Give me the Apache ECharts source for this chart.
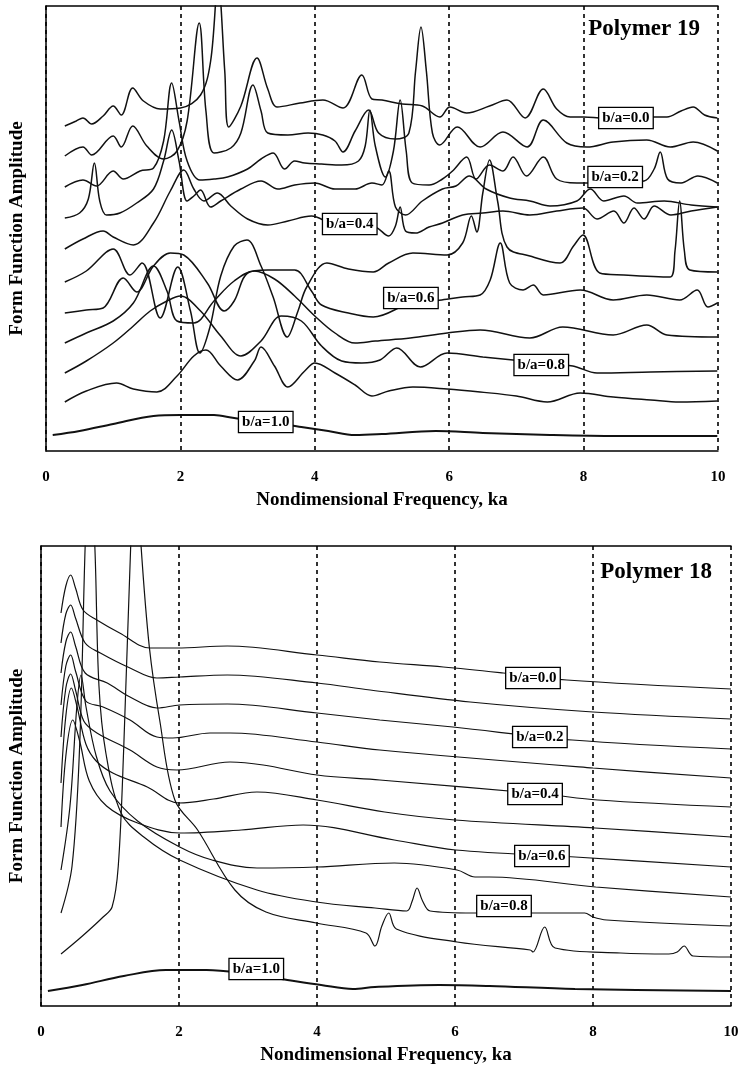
<!DOCTYPE html>
<html>
<head>
<meta charset="utf-8">
<script src="https://cdn.jsdelivr.net/npm/echarts@6/dist/echarts.min.js"></script>
<style>
html, body { margin: 0; padding: 0; background: #fff; }
#chart { width: 740px; height: 1066px; }
</style>
</head>
<body>
<div id="chart"></div>
<script>
// ---- Polymer 19 (top panel), x = ka, y = amplitude (arbitrary, offset per curve)
var p19_00 = [[0.28,325],[0.45,330],[0.55,333],[0.68,327],[0.85,335],[1.0,345],[1.12,336],[1.29,363],[1.45,350],[1.7,342],[2.0,343],[2.3,356],[2.45,390],[2.56,470],[2.66,380],[2.72,324],[2.9,345],[3.14,393],[3.3,362],[3.44,344],[3.78,348],[4.12,351],[4.42,343],[4.7,376],[4.85,352],[5.0,351],[5.3,347],[5.6,345],[5.86,334],[6.01,344],[6.26,338],[6.6,345],[6.86,351],[7.13,333],[7.4,362],[7.6,342],[7.8,334],[8.0,334],[8.3,333],[8.8,334],[9.24,334],[9.45,340],[9.63,344],[9.8,336],[9.99,333]];
var p19_01 = [[0.28,295],[0.55,304],[0.68,296],[1.0,315],[1.12,304],[1.29,325],[1.5,305],[1.75,292],[1.95,300],[2.1,330],[2.28,428],[2.38,340],[2.5,298],[2.75,303],[2.9,318],[3.08,366],[3.2,340],[3.3,318],[3.6,316],[3.9,318],[4.12,316],[4.3,310],[4.42,299],[4.6,320],[4.8,341],[4.95,318],[5.2,312],[5.4,318],[5.5,380],[5.58,424],[5.66,380],[5.75,318],[5.86,306],[6.12,324],[6.46,304],[6.8,319],[7.16,304],[7.4,331],[7.75,308],[8.05,304],[8.44,309],[8.94,311],[9.29,304],[9.63,309],[9.99,300]];
var p19_02 = [[0.28,264],[0.55,271],[0.75,265],[1.0,280],[1.15,272],[1.4,280],[1.6,283],[1.75,310],[1.87,368],[1.98,330],[2.1,290],[2.29,271],[2.5,272],[2.7,274],[3.0,282],[3.2,292],[3.38,298],[3.55,282],[3.7,290],[3.85,288],[4.1,287],[4.4,286],[4.65,290],[4.75,305],[4.82,341],[4.9,305],[5.05,274],[5.17,300],[5.27,351],[5.36,300],[5.45,268],[5.7,266],[5.9,272],[6.05,280],[6.26,294],[6.4,272],[6.6,286],[6.8,280],[6.95,294],[7.15,275],[7.4,294],[7.6,272],[7.9,268],[8.2,268],[8.9,270],[9.05,282],[9.14,299],[9.25,272],[9.45,268],[9.7,275],[9.99,268]];
var p19_03 = [[0.28,233],[0.5,238],[0.63,252],[0.72,288],[0.8,250],[0.9,236],[1.1,238],[1.35,248],[1.6,262],[1.75,290],[1.87,321],[1.98,290],[2.1,250],[2.2,255],[2.3,261],[2.45,244],[2.6,250],[2.9,262],[3.2,270],[3.45,262],[3.7,266],[4.0,268],[4.3,262],[4.6,262],[4.85,268],[5.0,266],[5.1,280],[5.2,244],[5.35,236],[5.6,250],[5.9,262],[6.1,265],[6.3,275],[6.55,262],[6.9,253],[7.2,250],[7.5,245],[7.9,250],[8.1,262],[8.3,250],[8.6,255],[8.8,248],[9.2,250],[9.6,246],[9.99,244]];
var p19_04 = [[0.28,202],[0.55,212],[0.85,220],[1.0,214],[1.3,206],[1.6,228],[1.85,260],[2.05,281],[2.2,262],[2.35,250],[2.55,258],[2.75,245],[3.0,232],[3.3,226],[3.6,230],[3.95,235],[4.3,227],[4.52,227],[4.9,224],[5.1,215],[5.2,225],[5.27,244],[5.35,220],[5.5,218],[5.7,224],[5.9,228],[6.2,236],[6.5,238],[6.8,240],[7.2,236],[7.6,240],[7.99,243],[8.2,232],[8.45,240],[8.6,228],[8.75,243],[8.9,232],[9.05,245],[9.3,236],[9.6,240],[9.99,244]];
var p19_05 = [[0.28,169],[0.6,180],[1.0,202],[1.25,176],[1.43,188],[1.7,133],[1.96,184],[2.15,140],[2.29,98],[2.44,124],[2.6,175],[2.8,205],[2.99,211],[3.2,185],[3.38,154],[3.59,114],[3.75,140],[3.88,164],[4.18,188],[4.5,182],[4.87,179],[5.1,188],[5.46,198],[5.97,196],[6.2,208],[6.33,235],[6.41,219],[6.5,258],[6.6,291],[6.72,250],[6.86,204],[7.2,195],[7.65,188],[7.85,205],[7.99,216],[8.24,178],[8.6,176],[9.29,174],[9.36,200],[9.43,250],[9.5,200],[9.58,181],[9.99,179]];
var p19_06 = [[0.28,138],[0.6,141],[0.85,143],[1.15,173],[1.35,159],[1.6,185],[1.85,198],[2.05,196],[2.4,168],[2.65,140],[2.8,150],[3.0,178],[3.3,181],[3.7,181],[3.95,160],[4.1,146],[4.5,138],[4.87,134],[5.43,148],[5.89,151],[6.2,154],[6.46,156],[6.61,171],[6.76,208],[6.9,168],[7.1,161],[7.25,166],[7.4,156],[7.95,161],[8.44,151],[8.94,156],[9.43,151],[9.69,161],[9.85,144],[9.99,148]];
var p19_07 = [[0.28,108],[0.6,118],[1.0,130],[1.3,148],[1.6,185],[1.8,160],[1.95,130],[2.2,128],[2.5,150],[2.8,170],[3.1,180],[3.4,172],[3.7,155],[4.0,135],[4.3,118],[4.6,108],[4.9,110],[5.42,113],[5.97,118],[6.46,121],[7.2,113],[7.69,124],[8.44,116],[8.94,126],[9.24,116],[9.99,114]];
var p19_08 = [[0.28,78],[0.6,90],[1.0,108],[1.3,125],[1.55,140],[1.8,150],[2.0,155],[2.3,140],[2.6,115],[2.9,95],[3.2,110],[3.5,135],[3.8,130],[4.1,105],[4.4,90],[4.7,88],[4.97,91],[5.22,103],[5.57,84],[5.97,98],[6.5,94],[6.95,91],[7.37,88],[7.84,85],[8.2,78],[9.0,79],[9.99,80]];
var p19_09 = [[0.28,49],[0.6,60],[1.05,68],[1.3,62],[1.65,59],[1.95,75],[2.2,95],[2.38,101],[2.6,85],[2.85,71],[3.1,90],[3.2,104],[3.4,85],[3.6,64],[3.85,80],[4.0,88],[4.3,78],[4.6,66],[4.85,55],[5.1,60],[5.46,64],[5.97,62],[6.46,59],[7.0,55],[7.46,49],[7.95,58],[8.44,54],[9.0,51],[9.43,49],[9.99,50]];
var p19_10 = [[0.1,16],[0.5,20],[1.0,27],[1.6,35],[2.0,36],[2.5,36],[2.8,33],[3.3,29],[3.8,24],[4.2,20],[4.6,16],[5.0,17],[5.8,20],[6.5,18],[7.5,16],[8.5,15],[9.99,15]];

// ---- Polymer 18 (bottom panel)
var p18_00 = [[0.29,393],[0.36,420],[0.43,431],[0.5,418],[0.61,396],[0.81,386],[1.14,373],[1.58,358],[1.97,358],[2.7,360],[4.0,351],[4.91,344],[5.83,339],[6.7,333],[7.62,326],[10,317]];
var p18_01 = [[0.29,363],[0.36,392],[0.43,401],[0.5,388],[0.64,363],[0.86,353],[1.29,338],[1.68,328],[2.01,329],[2.7,331],[4.0,323],[4.77,316],[6.22,304],[8.0,294],[10,287]];
var p18_02 = [[0.29,333],[0.36,364],[0.43,374],[0.5,360],[0.64,333],[0.96,323],[1.29,309],[1.68,298],[2.01,301],[2.7,302],[4.0,293],[4.91,286],[5.97,279],[7.7,266],[10,257]];
var p18_03 = [[0.29,301],[0.36,340],[0.43,351],[0.5,335],[0.65,305],[0.9,299],[1.29,286],[1.68,269],[1.91,268],[2.45,273],[2.74,273],[4.0,264],[4.91,256],[8.0,238],[10,228]];
var p18_04 = [[0.29,269],[0.36,318],[0.43,332],[0.5,316],[0.62,285],[0.81,273],[1.29,256],[1.68,239],[1.97,236],[2.74,244],[3.22,241],[4.0,231],[4.91,226],[7.28,212],[8.07,206],[10,199]];
var p18_05 = [[0.29,223],[0.36,290],[0.44,318],[0.52,300],[0.65,262],[0.8,245],[1.04,233],[1.54,219],[2.0,203],[2.5,207],[3.13,214],[4.0,206],[4.98,194],[6.0,186],[8.03,178],[10,169]];
var p18_06 = [[0.29,179],[0.36,250],[0.46,286],[0.56,265],[0.7,225],[0.95,200],[1.4,183],[2.01,173],[2.9,176],[3.8,181],[5.12,166],[6.01,156],[7.74,149],[10,139]];
var p18_07 = [[0.29,136],[0.42,200],[0.52,300],[0.58,331],[0.65,300],[0.8,250],[1.0,215],[1.4,185],[2.01,159],[2.48,146],[3.13,138],[4.0,139],[5.12,143],[6.03,136],[6.29,129],[6.5,129],[8.04,119],[10,109]];
var p18_08 = [[0.29,93],[0.45,140],[0.56,260],[0.64,460],[0.7,560],[0.78,460],[0.84,320],[0.94,253],[1.16,193],[1.49,169],[2.01,146],[3.13,116],[3.99,104],[4.84,98],[5.3,95],[5.38,105],[5.45,118],[5.53,105],[5.64,95],[6.26,93],[7.16,93],[7.88,93],[8.0,89],[8.2,86],[10,80]];
var p18_09 = [[0.29,52],[0.6,70],[0.9,89],[1.03,99],[1.12,140],[1.2,260],[1.3,460],[1.37,560],[1.45,460],[1.57,359],[1.72,286],[1.94,206],[2.27,176],[2.81,116],[3.26,94],[3.99,83],[4.71,73],[4.84,60],[4.94,80],[5.04,93],[5.15,77],[6.03,64],[7.09,56],[7.13,54],[7.3,79],[7.45,58],[8.4,53],[9.1,52],[9.22,54],[9.32,60],[9.45,50],[10,49]];
var p18_10 = [[0.1,15],[0.6,21],[1.2,30],[1.81,36],[2.4,36],[3.0,32],[3.57,26],[4.06,21],[4.52,17],[4.84,19],[5.77,21],[6.5,20],[7.74,17],[10,15]];

var curveNames = ['b/a=0.0','b/a=0.1','b/a=0.2','b/a=0.3','b/a=0.4','b/a=0.5','b/a=0.6','b/a=0.7','b/a=0.8','b/a=0.9','b/a=1.0'];
var p19_curves = [p19_00, p19_01, p19_02, p19_03, p19_04, p19_05, p19_06, p19_07, p19_08, p19_09, p19_10];
var p18_curves = [p18_00, p18_01, p18_02, p18_03, p18_04, p18_05, p18_06, p18_07, p18_08, p18_09, p18_10];

// boxed labels: [x, y, text]
var p19_labels = [[8.63,333,'b/a=0.0'],[8.47,274,'b/a=0.2'],[4.52,227,'b/a=0.4'],[5.43,153,'b/a=0.6'],[7.37,86,'b/a=0.8'],[3.27,29,'b/a=1.0']];
var p18_labels = [[7.13,328,'b/a=0.0'],[7.23,269,'b/a=0.2'],[7.16,212,'b/a=0.4'],[7.26,150,'b/a=0.6'],[6.71,100,'b/a=0.8'],[3.12,37,'b/a=1.0']];

var serif = '"Liberation Serif", "Times New Roman", serif';

var chart = echarts.init(document.getElementById('chart'));

function xAxisFor(gi) {
    return {
        gridIndex: gi, type: 'value', min: 0, max: 10, interval: 2,
        axisLine: { show: true, lineStyle: { color: '#000', width: 1.5 } },
        axisTick: { show: false },
        axisLabel: { color: '#000', fontFamily: serif, fontWeight: 'bold', fontSize: 15, margin: 19 },
        splitLine: { show: true, lineStyle: { color: '#000', type: [4, 4], width: 1.6 } },
        name: 'Nondimensional Frequency, ka', nameLocation: 'middle', nameGap: 40,
        nameTextStyle: { color: '#000', fontFamily: serif, fontWeight: 'bold', fontSize: 19 }
    };
}
function topBorder(gi) {
    return {
        gridIndex: gi, type: 'value', min: 0, max: 10, position: 'top',
        axisLine: { show: true, lineStyle: { color: '#000', width: 1.5 } },
        axisTick: { show: false }, axisLabel: { show: false }, splitLine: { show: false }
    };
}
function yAxisFor(gi, max, gap) {
    return {
        gridIndex: gi, type: 'value', min: 0, max: max,
        axisLine: { show: true, lineStyle: { color: '#000', width: 1.5 } },
        axisTick: { show: false }, axisLabel: { show: false }, splitLine: { show: false },
        name: 'Form Function Amplitude', nameLocation: 'middle', nameGap: gap, nameRotate: 90,
        nameTextStyle: { color: '#000', fontFamily: serif, fontWeight: 'bold', fontSize: 19 }
    };
}

var series = [];
function addCurves(list, xi, yi, width) {
    list.forEach(function (d, i) {
        series.push({
            name: curveNames[i], type: 'line', xAxisIndex: xi, yAxisIndex: yi,
            data: d, showSymbol: false, smooth: 0.35, silent: true,
            lineStyle: { color: '#111', width: i === 10 ? 2 : width }
        });
    });
}
function addLabels(list, xi, yi) {
    series.push({
        type: 'scatter', xAxisIndex: xi, yAxisIndex: yi, symbolSize: 1, silent: true, z: 10,
        itemStyle: { color: 'rgba(0,0,0,0)' },
        data: list.map(function (l) { return { value: [l[0], l[1]], name: l[2] }; }),
        label: {
            show: true, position: 'inside', formatter: '{b}',
            color: '#000', fontFamily: serif, fontWeight: 'bold', fontSize: 15,
            textBorderWidth: 0, opacity: 1,
            backgroundColor: '#fff', borderColor: '#000', borderWidth: 1.3, padding: [3, 3, 2, 3]
        }
    });
}
addCurves(p19_curves, 0, 0, 1.5);
addCurves(p18_curves, 2, 1, 1.2);
addLabels(p19_labels, 0, 0);
addLabels(p18_labels, 2, 1);

var option = {
    animation: false,
    backgroundColor: '#fff',
    grid: [
        { left: 46, right: 22, top: 6, height: 445, outerBoundsMode: 'none', containLabel: false },
        { left: 41, right: 9, top: 546, height: 460, outerBoundsMode: 'none', containLabel: false }
    ],
    xAxis: [xAxisFor(0), topBorder(0), xAxisFor(1), topBorder(1)],
    yAxis: [yAxisFor(0, 445, 19), yAxisFor(1, 460, 14)],
    title: [
        { text: 'Polymer 19', right: 35, top: 13, textStyle: { color: '#000', fontFamily: serif, fontWeight: 'bold', fontSize: 23 } },
        { text: 'Polymer 18', right: 23, top: 556, textStyle: { color: '#000', fontFamily: serif, fontWeight: 'bold', fontSize: 23 } }
    ],
    series: series
};
chart.setOption(option);
</script>
</body>
</html>
